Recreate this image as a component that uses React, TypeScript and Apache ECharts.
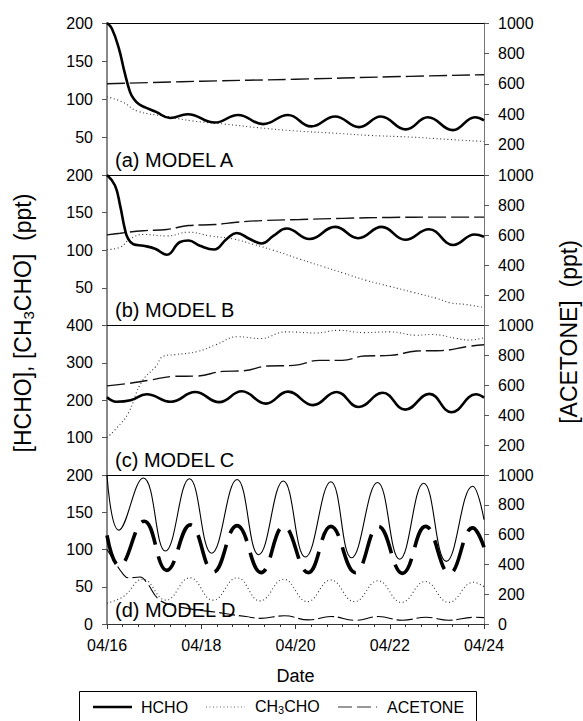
import React, { useEffect, useRef } from "react";
import * as echarts from "echarts";

// ---------- data (x = days since 04/16) ----------
const xTickLabels = ["04/16", "04/18", "04/20", "04/22", "04/24"];
const panelLabels = ["(a) MODEL A", "(b) MODEL B", "(c) MODEL C", "(d) MODEL D"];
const leftMax = [200, 200, 400, 200];
const leftStep = [50, 50, 100, 50];
const rightMax = 1000;
const rightStep = 200;

const aHcho = [[0,200],[0.1,193],[0.25,167],[0.37,136],[0.49,109],[0.57,100],[0.68,93],[0.81,89],[1.04,83],[1.34,75],[1.71,80],[2.29,69],[2.78,79],[3.31,67],[3.84,79],[4.33,64],[4.84,77],[5.35,63],[5.81,77],[6.34,60],[6.81,76],[7.34,59],[7.81,76],[8,72]];
const aCh3cho = [[0,103],[0.33,96],[0.65,84],[1.27,77],[1.83,71],[2.5,67],[3.25,62],[4,58],[4.84,55],[5.6,52],[6.41,50],[7.2,47],[8,44]];
const aAcetone = [[0,600],[2,617],[4,630],[6,646],[8,660]];

const bHcho = [[0,200],[0.17,186],[0.28,159],[0.38,128],[0.45,115],[0.56,108],[0.77,106],[1.02,102],[1.27,94],[1.55,111],[1.73,113],[1.97,106],[2.27,101],[2.54,115],[2.75,123],[3.03,115],[3.28,109],[3.53,119],[3.81,129],[4.3,115],[4.84,131],[5.33,116],[5.83,131],[6.33,114],[6.83,128],[7.35,107],[7.8,121],[8,118]];
const bCh3cho = [[0,101],[0.28,104],[0.49,115],[0.77,121],[1.27,119],[1.73,124],[2.19,119],[2.68,115],[3.1,108],[3.53,100],[4.1,88],[4.6,78],[5,70],[5.5,60],[6,52],[6.5,44],[7,36],[7.3,30],[7.6,28],[8,24]];
const bAcetone = [[0,602],[0.28,613],[0.77,630],[1.27,638],[1.73,664],[2.3,671],[2.75,686],[3.38,698],[4.1,704],[5,712],[6,718],[7,720],[8,720]];

const cHcho = [[0,208],[0.2,196],[0.5,200],[0.84,216],[1.36,196],[1.87,222],[2.38,195],[2.86,224],[3.37,191],[3.84,223],[4.37,187],[4.87,222],[5.34,182],[5.85,220],[6.33,175],[6.84,217],[7.31,168],[7.83,216],[8,207]];
const cCh3cho = [[0,100],[0.2,125],[0.45,165],[0.73,248],[1.04,291],[1.2,318],[1.44,322],[1.91,330],[2.3,348],[2.78,370],[3.25,365],[3.8,383],[4.43,380],[4.9,387],[5.46,381],[6,383],[6.57,374],[6.88,376],[7.43,365],[7.67,361],[8,367]];
const cAcetone = [[0,596],[0.4,610],[0.88,633],[1.44,660],[1.91,662],[2.46,693],[2.9,697],[3.41,729],[3.96,733],[4.51,767],[4.99,767],[5.46,796],[6.01,800],[6.57,829],[7.12,833],[7.67,860],[8,871]];

const dHcho = [[0,200],[0.25,126],[0.77,196],[1.24,98],[1.75,195],[2.22,95],[2.76,194],[3.22,93],[3.74,192],[4.21,90],[4.75,191],[5.19,89],[5.74,190],[6.21,87],[6.72,189],[7.2,84],[7.76,185],[8,140]];
const dCh3cho = [[0,28],[0.35,37],[0.76,60],[1.25,32],[1.76,62],[2.25,32],[2.76,62],[3.25,31],[3.75,60],[4.25,30],[4.75,59],[5.25,30],[5.75,58],[6.25,29],[6.75,57],[7.25,29],[7.78,56],[8,50]];
const dAcetone = [[0,595],[0.26,390],[0.79,690],[1.27,360],[1.77,665],[2.26,350],[2.76,660],[3.27,345],[3.75,655],[4.27,345],[4.75,655],[5.27,345],[5.76,655],[6.27,340],[6.76,655],[7.27,340],[7.76,645],[8,515]];
const dLow = [[0,100],[0.15,85],[0.33,68],[0.45,62],[0.7,63],[0.85,55],[1.1,33],[1.4,25],[1.9,19],[2.3,16],[2.6,13],[2.95,10],[3.25,7.6],[3.76,11],[4.28,5.5],[4.75,10],[5.27,5],[5.76,10],[6.27,5],[6.77,9],[7.25,5],[7.8,9],[8,8.5]];

// ---------- layout ----------
const FONT = '"Liberation Sans", Arial, sans-serif';
const gridTops = [23, 175, 325.5, 475];
const gridHeights = [152, 150.5, 149.5, 149];
const GRID_LEFT = 107;
const GRID_RIGHT = 99;

export default function App() {
  const ref = useRef<HTMLDivElement>(null);

  useEffect(() => {
    if (!ref.current) return;
    const chart = echarts.init(ref.current, undefined, { renderer: "svg" });

    const grids = gridTops.map((t, i) => ({
      left: GRID_LEFT,
      right: GRID_RIGHT,
      top: t,
      height: gridHeights[i],
      containLabel: false,
    }));

    const xAxes: any[] = gridTops.map((_, i) => ({
      gridIndex: i,
      type: "value",
      min: 0,
      max: 8,
      interval: 2,
      position: "top",
      axisLine: { show: true, onZero: false, lineStyle: { color: "#000", width: 1 } },
      axisTick: { show: false },
      axisLabel: { show: false },
      splitLine: { show: false },
    }));
    xAxes.push({
      gridIndex: 3,
      type: "value",
      min: 0,
      max: 8,
      interval: 2,
      position: "bottom",
      axisLine: { show: true, onZero: false, lineStyle: { color: "#333", width: 1 } },
      axisTick: { show: true, length: 5, lineStyle: { color: "#333" } },
      minorTick: { show: true, splitNumber: 6, length: 3, lineStyle: { color: "#333" } },
      axisLabel: {
        show: true,
        margin: 13,
        color: "#000",
        fontSize: 16,
        fontFamily: FONT,
        formatter: (v: number) => xTickLabels[Math.round(v / 2)] ?? "",
      },
      splitLine: { show: false },
      name: "Date",
      nameLocation: "middle",
      nameGap: 43,
      nameTextStyle: { color: "#000", fontSize: 18, fontFamily: FONT },
    });

    const plain = (v: number) => String(v);

    const yAxes: any[] = [];
    gridTops.forEach((_, i) => {
      yAxes.push({
        gridIndex: i,
        type: "value",
        position: "left",
        min: 0,
        max: leftMax[i],
        interval: leftStep[i],
        axisLine: { show: true, onZero: false, lineStyle: { color: "#888", width: 2 } },
        axisTick: { show: true, length: 5, lineStyle: { color: "#555" } },
        axisLabel: {
          showMinLabel: i === 3,
          margin: 14,
          color: "#000",
          fontSize: 16,
          fontFamily: FONT,
          formatter: plain,
        },
        splitLine: { show: false },
      });
      yAxes.push({
        gridIndex: i,
        type: "value",
        position: "right",
        min: 0,
        max: rightMax,
        interval: rightStep,
        axisLine: { show: true, onZero: false, lineStyle: { color: "#777", width: 1 } },
        axisTick: { show: true, length: 5, lineStyle: { color: "#555" } },
        axisLabel: {
          showMinLabel: i === 3,
          margin: 14,
          color: "#000",
          fontSize: 16,
          fontFamily: FONT,
          formatter: plain,
        },
        splitLine: { show: false },
      });
    });

    const line = (name: string, data: number[][], grid: number, right: boolean, ls: any, xIdx?: number) => ({
      name,
      type: "line",
      xAxisIndex: xIdx ?? grid,
      yAxisIndex: grid * 2 + (right ? 1 : 0),
      data,
      symbol: "none",
      showSymbol: false,
      smooth: 0.45,
      silent: true,
      lineStyle: ls,
    });

    const hchoStyle = { color: "#000", width: 2.6, type: "solid" };
    const ch3Style = { color: "#333", width: 1.1, type: [1, 2.6] };
    const aceStyle = { color: "#111", width: 1.4, type: [18, 5] };

    const series = [
      line("ACETONE", aAcetone, 0, true, aceStyle),
      line("CH3CHO", aCh3cho, 0, false, ch3Style),
      line("HCHO", aHcho, 0, false, hchoStyle),
      line("ACETONE", bAcetone, 1, true, aceStyle),
      line("CH3CHO", bCh3cho, 1, false, ch3Style),
      line("HCHO", bHcho, 1, false, hchoStyle),
      line("ACETONE", cAcetone, 2, true, aceStyle),
      line("CH3CHO", cCh3cho, 2, false, ch3Style),
      line("HCHO", cHcho, 2, false, hchoStyle),
      line("ACETONE", dAcetone, 3, true, { color: "#000", width: 3.6, type: [30, 12] }, 4),
      line("CH3CHO", dCh3cho, 3, false, ch3Style, 4),
      line("HCHO", dHcho, 3, false, { color: "#000", width: 1.1, type: "solid" }, 4),
      line("LOW", dLow, 3, false, { color: "#000", width: 1.1, type: [16, 4] }, 4),
    ];

    const labelYs = [160, 310, 460, 610];
    const graphics: any[] = panelLabels.map((t, i) => ({
      type: "text",
      x: 115,
      y: labelYs[i],
      z: 10,
      style: { text: t, font: `20px ${FONT}`, fill: "#000", verticalAlign: "middle", align: "left" },
    }));

    const richTitle = {
      n: { fontSize: 23, fontFamily: FONT, lineHeight: 26, fill: "#000", color: "#000" },
      s: { fontSize: 15, fontFamily: FONT, lineHeight: 15, verticalAlign: "bottom", color: "#000", fill: "#000" },
    };
    graphics.push({
      type: "text",
      x: 23,
      y: 323,
      rotation: Math.PI / 2,
      style: {
        text: "{n|[HCHO], [CH}{s|3}{n|CHO]  (ppt)}",
        rich: richTitle,
        align: "center",
        verticalAlign: "middle",
        fill: "#000",
      },
    });
    graphics.push({
      type: "text",
      x: 569,
      y: 332,
      rotation: Math.PI / 2,
      style: {
        text: "[ACETONE]  (ppt)",
        font: `23px ${FONT}`,
        align: "center",
        verticalAlign: "middle",
        fill: "#000",
      },
    });

    // legend box
    const LY = 707;
    graphics.push({
      type: "rect",
      shape: { x: 79.5, y: 691.5, width: 397, height: 40 },
      style: { fill: "none", stroke: "#000", lineWidth: 1 },
    });
    graphics.push({ type: "line", shape: { x1: 93, y1: LY, x2: 132, y2: LY }, style: { stroke: "#000", lineWidth: 2.6 } });
    graphics.push({ type: "text", x: 141, y: LY, style: { text: "HCHO", font: `16px ${FONT}`, fill: "#000", verticalAlign: "middle" } });
    graphics.push({ type: "line", shape: { x1: 206, y1: LY, x2: 245, y2: LY }, style: { stroke: "#666", lineWidth: 1, lineDash: [1, 2.5] } });
    graphics.push({
      type: "text",
      x: 255,
      y: LY - 1,
      style: {
        text: "{n|CH}{s|3}{n|CHO}",
        rich: {
          n: { fontSize: 16, fontFamily: FONT, lineHeight: 18, fill: "#000", color: "#000" },
          s: { fontSize: 11, fontFamily: FONT, lineHeight: 11, verticalAlign: "bottom", fill: "#000", color: "#000" },
        },
        verticalAlign: "middle",
        fill: "#000",
      },
    });
    graphics.push({ type: "line", shape: { x1: 338, y1: LY, x2: 377, y2: LY }, style: { stroke: "#333", lineWidth: 1.2, lineDash: [14, 5] } });
    graphics.push({ type: "text", x: 387, y: LY, style: { text: "ACETONE", font: `16px ${FONT}`, fill: "#000", verticalAlign: "middle" } });

    chart.setOption({
      animation: false,
      backgroundColor: "#fff",
      textStyle: { fontFamily: FONT },
      grid: grids,
      xAxis: xAxes,
      yAxis: yAxes,
      series,
      graphic: graphics,
    });

    return () => chart.dispose();
  }, []);

  return (
    <div
      ref={ref}
      style={{ position: "absolute", left: 0, top: 0, width: 583, height: 721, background: "#fff" }}
    />
  );
}
